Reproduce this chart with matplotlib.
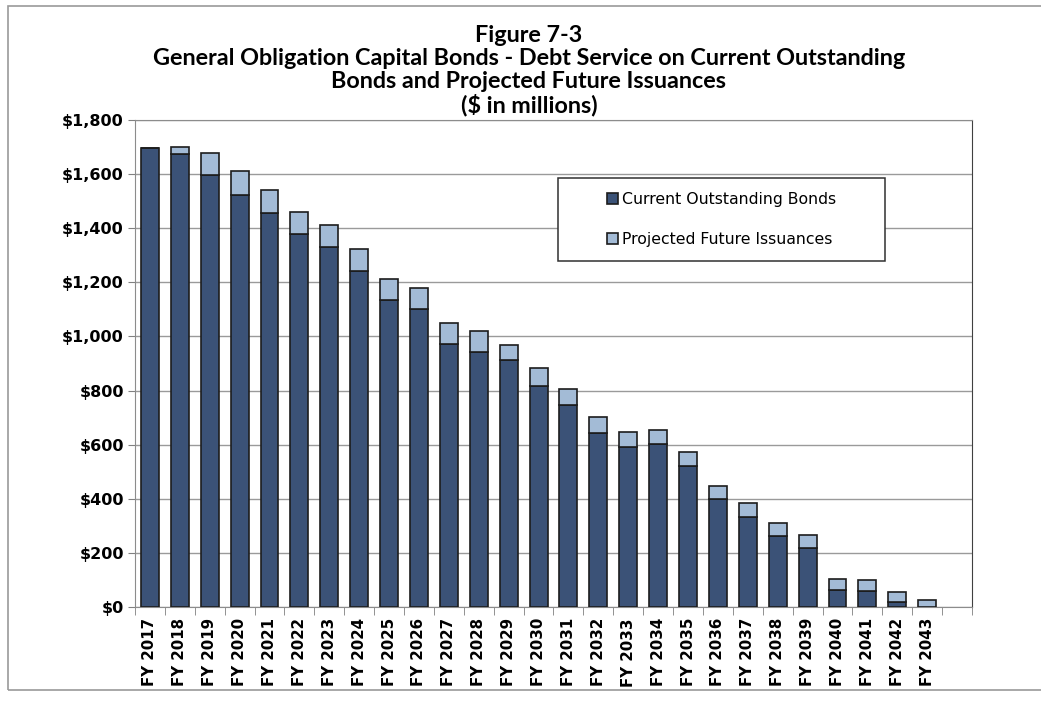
import matplotlib.pyplot as plt
import matplotlib.patches as mpatches
import numpy as np

years = ["FY 2017", "FY 2018", "FY 2019", "FY 2020", "FY 2021", "FY 2022",
         "FY 2023", "FY 2024", "FY 2025", "FY 2026", "FY 2027", "FY 2028",
         "FY 2029", "FY 2030", "FY 2031", "FY 2032", "FY 2033", "FY 2034",
         "FY 2035", "FY 2036", "FY 2037", "FY 2038", "FY 2039", "FY 2040",
         "FY 2041", "FY 2042", "FY 2043"]

# debt service, $ millions
current_bonds = [1697, 1675, 1595, 1523, 1456, 1377, 1332, 1243, 1133, 1100,
                 972, 941, 913, 818, 746, 644, 592, 602, 521, 399, 333, 262,
                 219, 64, 59, 18, 0]
total_service = [1697, 1700, 1678, 1611, 1540, 1460, 1413, 1322, 1211, 1180,
                 1048, 1021, 968, 882, 804, 701, 646, 654, 573, 448, 383, 310,
                 266, 103, 100, 57, 27]
future_issues = [t - c for t, c in zip(total_service, current_bonds)]

DARK = "#3b5277"
LIGHT = "#a3bbd6"
EDGE = "#1c1c1c"

fig = plt.figure(figsize=(10.41, 7.04), dpi=100)
ax = fig.add_axes([0.1297, 0.1378, 0.804, 0.6917])

x = np.arange(len(years))
ax.bar(x, current_bonds, width=0.6, color=DARK, edgecolor=EDGE, linewidth=1.2,
       label="Current Outstanding Bonds", zorder=3)
ax.bar(x, future_issues, width=0.6, bottom=current_bonds, color=LIGHT,
       edgecolor=EDGE, linewidth=1.2, label="Projected Future Issuances", zorder=3)

ax.set_xlim(-0.5, len(years) + 0.5)
ax.set_ylim(0, 1800)
ax.set_yticks(range(0, 1801, 200))
ax.set_yticklabels(["${:,}".format(v) for v in range(0, 1801, 200)],
                   fontsize=11.5, fontweight="bold")
ax.yaxis.grid(True, color="#9a9a9a", linewidth=1.0, zorder=0)
ax.tick_params(axis="y", length=5, color="#808080", pad=3)

ax.set_xticks(x)
ax.set_xticklabels(years, rotation=90, fontsize=10.8, fontweight="bold")
ax.tick_params(axis="x", which="major", length=0, pad=8)
ax.set_xticks(np.arange(-0.5, len(years) + 1, 1), minor=True)
ax.tick_params(axis="x", which="minor", length=6, color="#808080")

for side in ["left", "top", "bottom"]:
    ax.spines[side].set_color("#8c8c8c")
ax.spines["right"].set_color("#404040")

# legend box drawn separately so the entries can sit centred inside it
box = (0.536, 0.629, 0.314, 0.118)
fig.add_artist(mpatches.Rectangle(box[:2], box[2], box[3],
                                  transform=fig.transFigure, facecolor="white",
                                  edgecolor="#303030", linewidth=1.1, zorder=4))
leg = fig.legend(loc="center", bbox_to_anchor=box, fontsize=11.3,
                 frameon=False, labelspacing=1.55, handlelength=0.7,
                 handleheight=0.7, handletextpad=0.25, borderaxespad=0)
leg.set_zorder(5)

titles = ["Figure 7-3",
          "General Obligation Capital Bonds - Debt Service on Current Outstanding",
          "Bonds and Projected Future Issuances",
          "($ in millions)"]
for i, line in enumerate(titles):
    fig.text(0.508, 0.949 - i * 0.0327, line, ha="center", va="center",
             fontsize=16.8, fontweight="bold", family="Lato")

# outer frame around the exhibit
fig.add_artist(mpatches.Rectangle((0.008, 0.02), 1.2, 0.972,
                                  transform=fig.transFigure, fill=False,
                                  edgecolor="#9a9a9a", linewidth=1.2))

fig.savefig("out.png", dpi=100)
